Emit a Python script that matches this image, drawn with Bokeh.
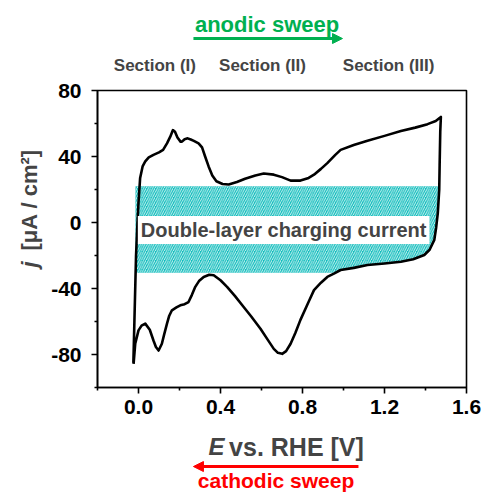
import numpy as np
from math import pi
from bokeh.plotting import figure
from bokeh.layouts import column, row
from bokeh.models import Label, Arrow, NormalHead, FixedTicker, Range1d
from bokeh.embed import file_html
from bokeh.resources import INLINE

# ---- data ----
anodic_E = [-0.025, -0.02, -0.012, -0.005, 0.0, 0.008, 0.02, 0.033, 0.05, 0.073, 0.1, 0.12,
            0.139, 0.155, 0.168, 0.178, 0.19, 0.205, 0.212, 0.225, 0.24, 0.255, 0.27, 0.293,
            0.31, 0.325, 0.342, 0.36, 0.38, 0.41, 0.44, 0.48, 0.52, 0.57, 0.611, 0.66, 0.70,
            0.742, 0.79, 0.83, 0.856, 0.89, 0.921, 0.96, 0.986, 1.05, 1.117, 1.2, 1.28, 1.35,
            1.41, 1.45, 1.475]
anodic_j = [-85, -60, -20, 0, 12, 27, 34, 37, 39.5, 41, 42.5, 44,
            48, 52, 56, 55, 51.5, 49, 49, 50.5, 51, 50.3, 49.5, 48,
            45.5, 40, 34, 28.5, 25, 23.3, 23, 24.5, 26.5, 28.5, 29.7, 29, 27.5,
            25.4, 25.4, 27, 29, 32.5, 36, 41, 44, 47, 49.5, 52.5, 55.5, 57.5,
            59.6, 61.5, 64]
cathodic_E = [1.475, 1.472, 1.469, 1.467, 1.46, 1.452, 1.443, 1.42, 1.394, 1.34, 1.28, 1.2,
              1.117, 1.05, 0.986, 0.953, 0.921, 0.89, 0.856, 0.83, 0.79, 0.765, 0.742, 0.72,
              0.701, 0.68, 0.66, 0.63, 0.595, 0.55, 0.513, 0.47, 0.432, 0.4, 0.367, 0.345,
              0.318, 0.295, 0.277, 0.26, 0.244, 0.225, 0.204, 0.185, 0.163, 0.15, 0.139,
              0.125, 0.114, 0.098, 0.085, 0.073, 0.055, 0.033, 0.015, 0.0, -0.016, -0.024]
cathodic_j = [64, 55, 35, 20, 5.7, -3, -10.5, -16.5, -19.7, -22.3, -23.8, -24.8,
              -25.8, -27.5, -28.8, -31, -33, -36.5, -41, -48, -59, -67, -73.5, -78,
              -79.6, -79, -76.6, -71, -64.4, -57, -51.2, -44.5, -39, -35, -32, -31.7,
              -33, -35.5, -39, -44, -48.2, -49.5, -50.2, -51.5, -53.2, -56.5, -61.3,
              -68, -73.5, -77.6, -75.5, -71.5, -65, -61.3, -62.5, -65.4, -73.5, -85.7]

dl_left, dl_top, dl_bottom = -0.015, 22.0, -30.5   # double-layer band
x_ticks = [0.0, 0.4, 0.8, 1.2, 1.6]
x_minor = [-0.2, 0.2, 0.6, 1.0, 1.4]
y_ticks = [-80, -40, 0, 40, 80]
y_minor = [-100, -60, -20, 20, 60]
x_range = (-0.2, 1.6)
y_range = (-100, 80)
sections = ["Section (I)", "Section (II)", "Section (III)"]
section_E = [0.080, 0.605, 1.220]

FONT = "Liberation Sans"
PX_PER_J = 297 / 180.0     # frame height / y span
PX_PER_E = 369 / 1.8       # frame width / x span

xr = Range1d(*x_range)
yr = Range1d(*y_range)

# ---- main plot ----
p = figure(width=438, height=345, output_backend="svg", toolbar_location=None,
           x_range=xr, y_range=yr,
           min_border_left=50, min_border_right=19, min_border_top=10, min_border_bottom=38)
p.grid.visible = False
p.outline_line_color = "black"
p.outline_line_width = 1.6
p.background_fill_color = "white"
p.border_fill_color = "white"

for ax in (p.xaxis[0], p.yaxis[0]):
    ax.axis_line_width = 1.6
    ax.major_tick_line_width = 1.6
    ax.minor_tick_line_width = 1.6
    ax.major_tick_in = 0
    ax.major_tick_out = 6
    ax.minor_tick_in = 0
    ax.minor_tick_out = 3
    ax.major_label_text_font = FONT
    ax.major_label_text_font_style = "bold"
    ax.major_label_text_font_size = "21px"
    ax.major_label_text_color = "black"
p.xaxis[0].ticker = FixedTicker(ticks=x_ticks, minor_ticks=x_minor)
p.yaxis[0].ticker = FixedTicker(ticks=y_ticks, minor_ticks=y_minor)
p.xaxis[0].major_label_overrides = {t: f"{t:.1f}" for t in x_ticks}
p.yaxis[0].major_label_overrides = {t: f"{t}" for t in y_ticks}
p.xaxis[0].major_label_standoff = 6
p.yaxis[0].major_label_standoff = 10

# hatched double-layer region, bounded on the right by the cathodic curve
ce = np.array(cathodic_E); cj = np.array(cathodic_j)
i_bot = int(np.argmax(cj < dl_bottom))
seg_e = ce[:i_bot + 1]; seg_j = cj[:i_bot + 1]
order = np.argsort(seg_j)
e_top = float(np.interp(dl_top, seg_j[order], seg_e[order]))
e_bot = float(np.interp(dl_bottom, seg_j[order], seg_e[order]))
inner = (seg_j < dl_top) & (seg_j > dl_bottom)
px = [dl_left, e_top] + list(seg_e[inner]) + [e_bot, dl_left]
py = [dl_top, dl_top] + list(seg_j[inner]) + [dl_bottom, dl_bottom]
p.patch(px, py, fill_color="#12BDBD", line_color=None,
        hatch_pattern="/", hatch_color="white", hatch_scale=4.5, hatch_weight=0.8)

# CV curve
p.line(anodic_E + cathodic_E, anodic_j + cathodic_j,
       line_color="black", line_width=2.6, line_join="round")

p.add_layout(Label(x=0.708, y=-4.5, text="Double-layer charging current",
                   text_font=FONT, text_font_style="bold", text_font_size="20px",
                   text_align="center", text_baseline="middle",
                   background_fill_color="white", padding=3))

def blank(width, height, xrange, yrange, left=0, right=0, top=0, bottom=0):
    f = figure(width=width, height=height, output_backend="svg", toolbar_location=None,
               x_range=xrange, y_range=yrange, x_axis_type=None, y_axis_type=None,
               min_border_left=left, min_border_right=right,
               min_border_top=top, min_border_bottom=bottom)
    f.outline_line_color = None
    f.background_fill_color = "white"
    f.border_fill_color = "white"
    return f

# ---- top strip: anodic sweep + section names (continues the j scale upward) ----
top = blank(485, 80, xr, Range1d(y_range[1] + 10 / PX_PER_J, y_range[1] + 90 / PX_PER_J),
            left=97, right=19)
top.add_layout(Label(x=0.627, y=120.1, text="anodic sweep", text_font=FONT,
                     text_font_style="bold", text_font_size="22px", text_color="#00B050",
                     text_align="center", text_baseline="middle"))
top.add_layout(Arrow(x_start=0.268, y_start=111.5, x_end=0.995, y_end=111.5,
                     line_color="#00B050", line_width=3,
                     end=NormalHead(size=10, fill_color="#00B050", line_color="#00B050")))
for s, e in zip(sections, section_E):
    top.add_layout(Label(x=e, y=95.0, text=s, text_font=FONT, text_font_style="bold",
                         text_font_size="17px", text_align="center", text_baseline="middle"))

# ---- left strip: y axis title ----
left = blank(47, 345, Range1d(x_range[0] - 97 / PX_PER_E, x_range[0] - 50 / PX_PER_E), yr,
             top=10, bottom=38)
left.add_layout(Label(x=-0.53, y=-27.3, text="j", angle=pi / 2, text_font=FONT,
                      text_font_style="bold italic", text_font_size="22px",
                      text_align="left", text_baseline="middle"))
left.add_layout(Label(x=-0.53, y=-17.0, text="[μA / cm²]", angle=pi / 2, text_font=FONT,
                      text_font_style="bold", text_font_size="22px",
                      text_align="left", text_baseline="middle"))

# ---- bottom strip: x axis title + cathodic sweep ----
j_top_b = y_range[0] - 38 / PX_PER_J
bottom = blank(485, 67, xr, Range1d(j_top_b - 67 / PX_PER_J, j_top_b), left=97, right=19)
bottom.add_layout(Label(x=0.341, y=-135.8, text="E", text_font=FONT,
                        text_font_style="bold italic", text_font_size="24px",
                        text_align="left", text_baseline="middle"))
bottom.add_layout(Label(x=0.442, y=-135.8, text="vs. RHE [V]", text_font=FONT,
                        text_font_style="bold", text_font_size="25px",
                        text_align="left", text_baseline="middle"))
bottom.add_layout(Arrow(x_start=1.073, y_start=-147.9, x_end=0.268, y_end=-147.9,
                        line_color="#FF0000", line_width=3,
                        end=NormalHead(size=10, fill_color="#FF0000", line_color="#FF0000")))
bottom.add_layout(Label(x=0.671, y=-156.6, text="cathodic sweep", text_font=FONT,
                        text_font_style="bold", text_font_size="21px", text_color="#FF0000",
                        text_align="center", text_baseline="middle"))

layout = column(top, row(left, p), bottom)
open("out.html", "w").write(file_html(layout, INLINE))
